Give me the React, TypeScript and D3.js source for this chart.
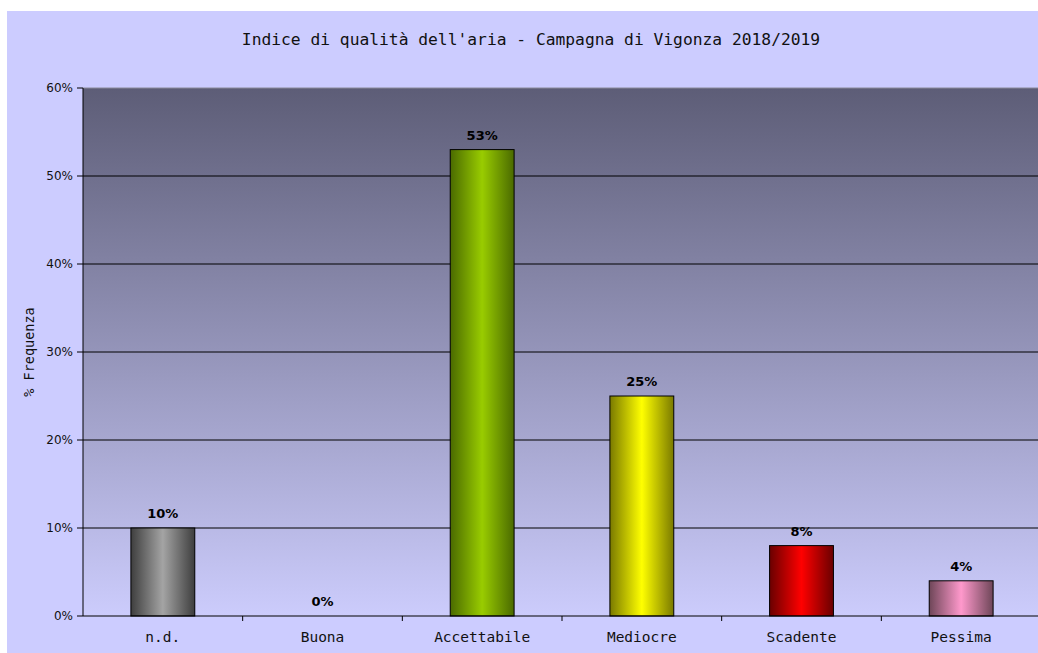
import React from "react";
import * as d3 from "d3";

const categories = ["n.d.", "Buona", "Accettabile", "Mediocre", "Scadente", "Pessima"];
const values = [10, 0, 53, 25, 8, 4];
const barColors = [
  ["#3e3e3e", "#a4a4a4"],
  ["#004488", "#3399ff"],
  ["#4a6a00", "#99cc00"],
  ["#7a7a00", "#ffff00"],
  ["#6a0000", "#ff0000"],
  ["#6e4658", "#ff99cc"],
];
const yTicks = [0, 10, 20, 30, 40, 50, 60];
const title = "Indice di qualità dell'aria - Campagna di Vigonza 2018/2019";
const yTitle = "% Frequenza";

const W = 1038;
const H = 653;
const plot = { left: 83, right: 1041, top: 88, bottom: 616 };

export default function App() {
  const x = d3.scaleBand<string>().domain(categories).range([plot.left, plot.right]).paddingInner(0).paddingOuter(0);
  const y = d3.scaleLinear().domain([0, 60]).range([plot.bottom, plot.top]);
  const bw = x.bandwidth() * 0.4;
  const mono = "'DejaVu Sans Mono', monospace";
  const sans = "'DejaVu Sans', Verdana, sans-serif";
  return (
    <svg width={W} height={H} style={{ position: "absolute", left: 0, top: 0 }}>
      <defs>
        <linearGradient id="bg" x1="0" y1="0" x2="0" y2="1">
          <stop offset="0" stopColor="#5d5d77" />
          <stop offset="1" stopColor="#ccccfc" />
        </linearGradient>
        {categories.map((c, i) => (
          <linearGradient key={c} id={`bar${i}`} x1="0" y1="0" x2="1" y2="0">
            <stop offset="0" stopColor={barColors[i][0]} />
            <stop offset="0.5" stopColor={barColors[i][1]} />
            <stop offset="1" stopColor={barColors[i][0]} />
          </linearGradient>
        ))}
      </defs>
      <rect x={0} y={0} width={W} height={H} fill="#ffffff" />
      <rect x={7} y={11} width={W - 7} height={H - 11} fill="#ccccff" />
      <rect x={plot.left} y={plot.top} width={W - plot.left} height={plot.bottom - plot.top} fill="url(#bg)" />
      <text x={531} y={45} textAnchor="middle" fontFamily={mono} fontSize={16.3} fill="#111">
        {title}
      </text>
      {yTicks.map((t) => (
        <g key={t}>
          {t > 0 && (
            <line
              x1={plot.left}
              x2={W}
              y1={y(t)}
              y2={y(t)}
              stroke={t === 60 ? "#8a8a9a" : "#000"}
              strokeWidth={1}
            />
          )}
          <line x1={77} x2={plot.left} y1={y(t)} y2={y(t)} stroke="#000" />
          <text x={73} y={y(t) + 4} textAnchor="end" fontFamily={sans} fontSize={12} fill="#111">
            {t}%
          </text>
        </g>
      ))}
      <text
        transform={`translate(34,${(plot.top + plot.bottom) / 2}) rotate(-90)`}
        textAnchor="middle"
        fontFamily={mono}
        fontSize={13.5}
        fill="#111"
      >
        {yTitle}
      </text>
      {categories.map((c, i) => {
        const cx = (x(c) as number) + x.bandwidth() / 2;
        const v = values[i];
        return (
          <g key={c}>
            {v > 0 && (
              <rect
                x={cx - bw / 2}
                y={y(v)}
                width={bw}
                height={plot.bottom - y(v)}
                fill={`url(#bar${i})`}
                stroke="#000"
                strokeWidth={1}
              />
            )}
            <text x={cx} y={y(v) - 10} textAnchor="middle" fontFamily={sans} fontWeight="bold" fontSize={13} fill="#000">
              {v}%
            </text>
            <text x={cx} y={642} textAnchor="middle" fontFamily={mono} fontSize={14.5} fill="#111">
              {c}
            </text>
          </g>
        );
      })}
      {categories.slice(1).map((c) => (
        <line key={c} x1={x(c)} x2={x(c)} y1={plot.bottom} y2={plot.bottom + 5} stroke="#000" />
      ))}
      <line x1={plot.left} x2={plot.left} y1={plot.top} y2={plot.bottom} stroke="#000" />
      <line x1={plot.left} x2={W} y1={plot.bottom} y2={plot.bottom} stroke="#000" />
    </svg>
  );
}
